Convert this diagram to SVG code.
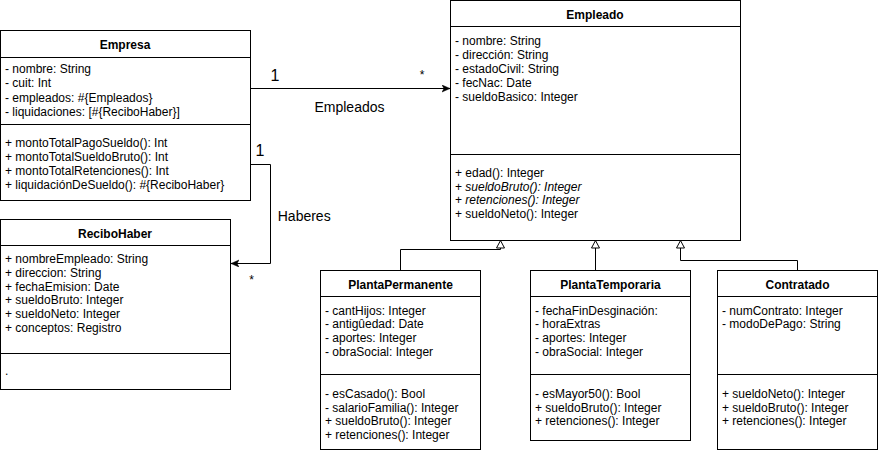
<svg xmlns="http://www.w3.org/2000/svg" width="878" height="454" viewBox="0 0 878 454">
<style>
.box{fill:#fff;stroke:#000;stroke-width:1}
.ln{fill:none;stroke:#000;stroke-width:1}
.t{font-family:"Liberation Sans",Arial,Helvetica,sans-serif;font-size:12px;fill:#000}
.b{font-weight:bold;text-anchor:middle}
.lbl{font-family:"Liberation Sans",Arial,Helvetica,sans-serif;font-size:14px;fill:#000}
.m{font-family:"Liberation Sans",Arial,Helvetica,sans-serif;font-size:16px;fill:#000}
.s{font-family:"Liberation Sans",Arial,Helvetica,sans-serif;font-size:12px;fill:#000;text-anchor:middle}
.i{font-style:italic}
</style>
<defs>
<marker id="arr" markerUnits="userSpaceOnUse" markerWidth="9" markerHeight="8" refX="8" refY="3.5" orient="auto">
<path d="M0,0 L8,3.5 L0,7 L2,3.5 Z" fill="#000" stroke="#000" stroke-width="0.5"/>
</marker>
<marker id="tri" markerUnits="userSpaceOnUse" markerWidth="10" markerHeight="10" refX="8" refY="4.5" orient="auto">
<path d="M0.5,0.5 L8,4.5 L0.5,8.5 Z" fill="#fff" stroke="#000" stroke-width="1"/>
</marker>
</defs>

<g id="connectors">
<path class="ln" d="M250.5,88.5 H450" marker-end="url(#arr)"/>
<path class="ln" d="M250.5,164.5 H270.5 V263.5 H231" marker-end="url(#arr)"/>
<path class="ln" d="M400.5,270 V249.5 H500.5 V240.5" marker-end="url(#tri)"/>
<path class="ln" d="M595.5,270 V240.5" marker-end="url(#tri)"/>
<path class="ln" d="M797.5,270 V260.5 H680.5 V240.5" marker-end="url(#tri)"/>
<text class="m" x="275" y="80.7" text-anchor="middle">1</text>
<text class="s" x="422" y="78.6">*</text>
<text class="lbl" x="349.5" y="111.7" text-anchor="middle">Empleados</text>
<text class="m" x="260" y="156" text-anchor="middle">1</text>
<text class="lbl" x="304.2" y="221" text-anchor="middle">Haberes</text>
<text class="s" x="251.5" y="283.5">*</text>
</g>

<g id="Empresa">
<rect class="box" x="0.5" y="30.5" width="250" height="170"/>
<path class="ln" d="M0.5,57.5 H250.5 M0.5,124.5 H250.5"/>
<text class="t b" x="125" y="48.5">Empresa</text>
<text class="t" x="5" y="72.8">- nombre: String</text>
<text class="t" x="5" y="87.2">- cuit: Int</text>
<text class="t" x="5" y="101.6">- empleados: #{Empleados}</text>
<text class="t" x="5" y="116">- liquidaciones: [#{ReciboHaber}]</text>
<text class="t" x="5" y="146.8">+ montoTotalPagoSueldo(): Int</text>
<text class="t" x="5" y="160.8">+ montoTotalSueldoBruto(): Int</text>
<text class="t" x="5" y="174.8">+ montoTotalRetenciones(): Int</text>
<text class="t" x="5" y="188.8">+ liquidaciónDeSueldo(): #{ReciboHaber}</text>
</g>

<g id="Empleado">
<rect class="box" x="450.5" y="0.5" width="290" height="240"/>
<path class="ln" d="M450.5,26.5 H740.5 M450.5,154.5 H740.5"/>
<text class="t b" x="595" y="18.5">Empleado</text>
<text class="t" x="455" y="44.5">- nombre: String</text>
<text class="t" x="455" y="58.5">- dirección: String</text>
<text class="t" x="455" y="72.5">- estadoCivil: String</text>
<text class="t" x="455" y="86.5">- fecNac: Date</text>
<text class="t" x="455" y="100.5">- sueldoBasico: Integer</text>
<text class="t" x="455" y="177">+ edad(): Integer</text>
<text class="t" x="455" y="190.7">+ <tspan class="i">sueldoBruto(): Integer</tspan></text>
<text class="t" x="455" y="204.4">+ <tspan class="i">retenciones(): Integer</tspan></text>
<text class="t" x="455" y="218.1">+ sueldoNeto(): Integer</text>
</g>

<g id="ReciboHaber">
<rect class="box" x="0.5" y="219.5" width="230" height="170"/>
<path class="ln" d="M0.5,245.5 H230.5 M0.5,353.5 H230.5"/>
<text class="t b" x="115" y="237.8">ReciboHaber</text>
<text class="t" x="5" y="263">+ nombreEmpleado: String</text>
<text class="t" x="5" y="276.8">+ direccion: String</text>
<text class="t" x="5" y="290.6">+ fechaEmision: Date</text>
<text class="t" x="5" y="304.4">+ sueldoBruto: Integer</text>
<text class="t" x="5" y="318.2">+ sueldoNeto: Integer</text>
<text class="t" x="5" y="332">+ conceptos: Registro</text>
<text class="t" x="5" y="374.5">.</text>
</g>

<g id="PlantaPermanente">
<rect class="box" x="320.5" y="270.5" width="160" height="179"/>
<path class="ln" d="M320.5,296.5 H480.5 M320.5,374.5 H480.5"/>
<text class="t b" x="400.5" y="288.5">PlantaPermanente</text>
<text class="t" x="325" y="314.5">- cantHijos: Integer</text>
<text class="t" x="325" y="328.3">- antigûedad: Date</text>
<text class="t" x="325" y="342.1">- aportes: Integer</text>
<text class="t" x="325" y="355.9">- obraSocial: Integer</text>
<text class="t" x="325" y="397.8">- esCasado(): Bool</text>
<text class="t" x="325" y="411.6">- salarioFamilia(): Integer</text>
<text class="t" x="325" y="425.4">+ sueldoBruto(): Integer</text>
<text class="t" x="325" y="439.2">+ retenciones(): Integer</text>
</g>

<g id="PlantaTemporaria">
<rect class="box" x="530.5" y="270.5" width="160" height="170"/>
<path class="ln" d="M530.5,296.5 H690.5 M530.5,374.5 H690.5"/>
<text class="t b" x="610.5" y="288.5">PlantaTemporaria</text>
<text class="t" x="535" y="314.5">- fechaFinDesginación:</text>
<text class="t" x="535" y="328.3">- horaExtras</text>
<text class="t" x="535" y="342.1">- aportes: Integer</text>
<text class="t" x="535" y="355.9">- obraSocial: Integer</text>
<text class="t" x="535" y="397.8">- esMayor50(): Bool</text>
<text class="t" x="535" y="411.6">+ sueldoBruto(): Integer</text>
<text class="t" x="535" y="425.4">+ retenciones(): Integer</text>
</g>

<g id="Contratado">
<rect class="box" x="717.5" y="270.5" width="160" height="179"/>
<path class="ln" d="M717.5,296.5 H877.5 M717.5,374.5 H877.5"/>
<text class="t b" x="797.5" y="288.5">Contratado</text>
<text class="t" x="722" y="314.5">- numContrato: Integer</text>
<text class="t" x="722" y="328.3">- modoDePago: String</text>
<text class="t" x="722" y="397.8">+ sueldoNeto(): Integer</text>
<text class="t" x="722" y="411.6">+ sueldoBruto(): Integer</text>
<text class="t" x="722" y="425.4">+ retenciones(): Integer</text>
</g>
</svg>
